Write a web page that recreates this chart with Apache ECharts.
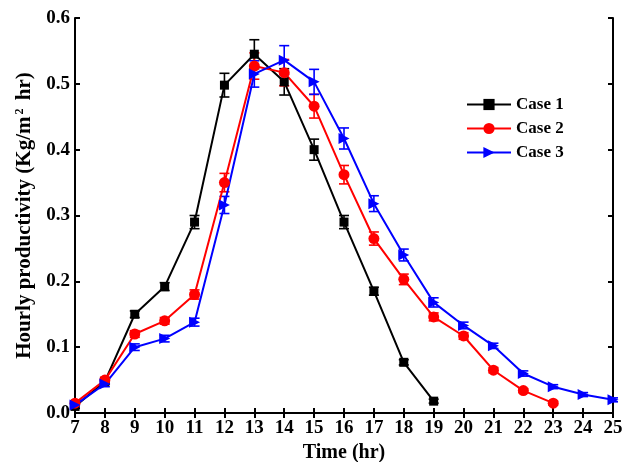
<!DOCTYPE html>
<html>
<head>
<meta charset="utf-8">
<script src="https://cdn.jsdelivr.net/npm/echarts@6/dist/echarts.min.js"></script>
<style>
  html, body { margin: 0; padding: 0; background: #fff; }
  #chart { width: 630px; height: 462px; }
</style>
</head>
<body>
<div id="chart"></div>
<script>
// Hours of the day (x axis)
const hours = [7, 8, 9, 10, 11, 12, 13, 14, 15, 16, 17, 18, 19, 20, 21, 22, 23, 24, 25];

// Hourly productivity (Kg/m² hr), one value per hour starting at 7
const case1 = [0.010, 0.048, 0.150, 0.192, 0.290, 0.498, 0.545, 0.503, 0.400, 0.290, 0.185, 0.077, 0.018];
const case2 = [0.015, 0.050, 0.120, 0.140, 0.180, 0.350, 0.527, 0.517, 0.466, 0.362, 0.265, 0.203, 0.146, 0.117, 0.065, 0.034, 0.015];
const case3 = [0.012, 0.044, 0.100, 0.113, 0.138, 0.316, 0.515, 0.536, 0.503, 0.417, 0.318, 0.240, 0.168, 0.133, 0.102, 0.060, 0.040, 0.028, 0.020];

// Standard deviation of each measurement
const err1 = [0.003, 0.004, 0.005, 0.006, 0.010, 0.018, 0.022, 0.020, 0.016, 0.010, 0.006, 0.004, 0.003];
const err2 = [0.003, 0.004, 0.005, 0.005, 0.007, 0.014, 0.020, 0.020, 0.018, 0.014, 0.010, 0.008, 0.006, 0.005, 0.004, 0.003, 0.003];
const err3 = [0.003, 0.004, 0.005, 0.005, 0.006, 0.013, 0.020, 0.022, 0.019, 0.016, 0.012, 0.009, 0.007, 0.005, 0.004, 0.004, 0.003, 0.003, 0.003];

const seriesNames = ['Case 1', 'Case 2', 'Case 3'];
const seriesColors = ['#000000', '#ff0000', '#0000ff'];
const seriesSymbols = ['rect', 'circle', 'path://M0,0 L10,5 L0,10 Z'];
const yTicks = [0, 0.1, 0.2, 0.3, 0.4, 0.5, 0.6];

const FONT = '"Liberation Serif", "Times New Roman", serif';

function pairs(vals) {
  return vals.map((v, i) => [hours[i], v]);
}

function errData(vals, errs) {
  return vals.map((v, i) => [hours[i], v - errs[i], v + errs[i]]);
}

function errorSeries(vals, errs, color) {
  return {
    type: 'custom',
    name: 'err',
    z: 3,
    silent: true,
    data: errData(vals, errs),
    renderItem: function (params, api) {
      const x = api.value(0);
      const lo = api.coord([x, api.value(1)]);
      const hi = api.coord([x, api.value(2)]);
      const cap = 5;
      const style = { stroke: color, lineWidth: 1.6 };
      return {
        type: 'group',
        children: [
          { type: 'line', shape: { x1: lo[0], y1: lo[1], x2: hi[0], y2: hi[1] }, style: style },
          { type: 'line', shape: { x1: lo[0] - cap, y1: lo[1], x2: lo[0] + cap, y2: lo[1] }, style: style },
          { type: 'line', shape: { x1: hi[0] - cap, y1: hi[1], x2: hi[0] + cap, y2: hi[1] }, style: style }
        ]
      };
    }
  };
}

function lineSeries(idx, vals) {
  return {
    type: 'line',
    name: seriesNames[idx],
    data: pairs(vals),
    z: 4,
    symbol: seriesSymbols[idx],
    symbolSize: idx === 0 ? 9 : 11,
    showAllSymbol: true,
    itemStyle: { color: seriesColors[idx] },
    lineStyle: { color: seriesColors[idx], width: 2 },
    emphasis: { disabled: true },
    animation: false
  };
}

const axisLine = { show: true, lineStyle: { color: '#000', width: 2 } };
const tickStyle = { show: true, inside: true, length: 5, lineStyle: { color: '#000', width: 2 } };
const labelStyle = { color: '#000', fontFamily: FONT, fontWeight: 'bold', fontSize: 19 };

const chart = echarts.init(document.getElementById('chart'), null, { renderer: 'canvas' });
chart.setOption({
  animation: false,
  backgroundColor: '#fff',
  grid: { left: 75, right: 17, top: 18, bottom: 49, containLabel: false, outerBoundsMode: 'none' },
  legend: {
    data: seriesNames,
    orient: 'vertical',
    left: 466,
    top: 95,
    padding: 0,
    itemWidth: 44,
    itemHeight: 14,
    itemGap: 5,
    textStyle: { color: '#000', fontFamily: FONT, fontWeight: 'bold', fontSize: 17, lineHeight: 19 },
    selectedMode: false
  },
  xAxis: [
    {
      type: 'value', min: 7, max: 25, interval: 1,
      name: 'Time (hr)', nameLocation: 'middle', nameGap: 29,
      nameTextStyle: { color: '#000', fontFamily: FONT, fontWeight: 'bold', fontSize: 20 },
      axisLine: axisLine, axisTick: tickStyle,
      axisLabel: Object.assign({ margin: 6 }, labelStyle),
      splitLine: { show: false }
    },
    {
      type: 'value', min: 7, max: 25, interval: 1, position: 'top',
      axisLine: axisLine, axisTick: tickStyle,
      axisLabel: { show: false }, splitLine: { show: false }
    }
  ],
  yAxis: [
    {
      type: 'value', min: yTicks[0], max: yTicks[yTicks.length - 1], interval: 0.1,
      name: 'Hourly productivity (Kg/m{sup|2} hr)', nameLocation: 'middle', nameGap: 35,
      nameTextStyle: {
        color: '#000', fontFamily: FONT, fontWeight: 'bold', fontSize: 21,
        rich: {
          sup: { fontFamily: FONT, fontWeight: 'bold', fontSize: 12, verticalAlign: 'top', padding: [0, 3, 8, 2], color: '#000' }
        }
      },
      axisLine: axisLine, axisTick: tickStyle,
      axisLabel: Object.assign({ margin: 5, formatter: v => v.toFixed(1) }, labelStyle),
      splitLine: { show: false }
    },
    {
      type: 'value', min: yTicks[0], max: yTicks[yTicks.length - 1], interval: 0.1, position: 'right',
      axisLine: axisLine, axisTick: tickStyle,
      axisLabel: { show: false }, splitLine: { show: false }
    }
  ],
  series: [
    errorSeries(case1, err1, seriesColors[0]),
    errorSeries(case2, err2, seriesColors[1]),
    errorSeries(case3, err3, seriesColors[2]),
    lineSeries(0, case1),
    lineSeries(1, case2),
    lineSeries(2, case3)
  ]
});
</script>
</body>
</html>
